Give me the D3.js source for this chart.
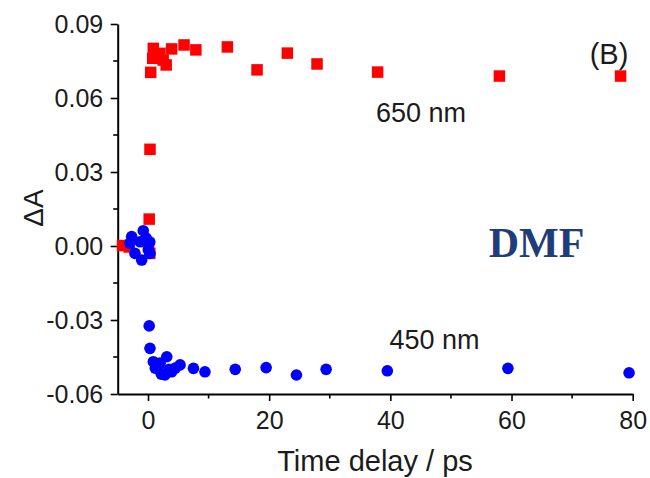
<!DOCTYPE html>
<html><head><meta charset="utf-8">
<script src="https://cdn.jsdelivr.net/npm/d3@7"></script>
<style>body{margin:0;background:#fff}svg{display:block}</style>
</head><body>
<svg id="c" width="650" height="478"></svg>
<script>
// 650 nm (red squares)
const redT = [-4.2, -3.1, 0.1, 0.3, 0.2, 0.33, 0.45, 0.78, 0.88, 1.98, 2.5, 3.0, 3.9, 5.95, 7.9, 13.1, 18.0, 23.0, 27.9, 37.9, 58.0, 78.0];
const redA = [0.0002, -0.0004, 0.001, -0.003, 0.0109, 0.0392, 0.0704, 0.0761, 0.0801, 0.0781, 0.0754, 0.0734, 0.0799, 0.0815, 0.0795, 0.0807, 0.0714, 0.0782, 0.0738, 0.0705, 0.0689, 0.0689];
// 450 nm (blue circles)
const blueT = [-3.0, -2.7, -2.15, -1.3, -1.04, -0.78, -0.3, 0.05, 0.3, 0.33, 0.2, 0.33, 0.88, 1.2, 1.7, 2.0, 2.2, 2.8, 3.1, 3.5, 3.9, 4.5, 5.3, 7.5, 9.4, 14.4, 19.5, 24.5, 29.4, 39.5, 59.4, 79.4];
const blueA = [0.0011, 0.0038, -0.003, 0.0017, -0.0057, 0.0062, 0.0032, -0.0016, 0.0016, -0.003, -0.0324, -0.0415, -0.0469, -0.0495, -0.0489, -0.0475, -0.052, -0.0523, -0.0449, -0.05, -0.051, -0.0495, -0.0482, -0.0496, -0.051, -0.05, -0.0493, -0.0523, -0.05, -0.0506, -0.0496, -0.0514];
const xTicks = [0, 20, 40, 60, 80];
const xMinor = [10, 30, 50, 70];
const yTicks = [-0.06, -0.03, 0.00, 0.03, 0.06, 0.09];
const yTickLabels = ["-0.06", "-0.03", "0.00", "0.03", "0.06", "0.09"];
const yMinor = [-0.045, -0.015, 0.015, 0.045, 0.075];

const svg = d3.select("#c");
const x = d3.scaleLinear().domain([-5, 80]).range([117.7, 632.7]);
const y = d3.scaleLinear().domain([-0.06, 0.09]).range([394, 24]);
const font = "'Liberation Sans', Arial, sans-serif";
const txt = "#1b1b1b";

// axes
const xAxis = d3.axisBottom(x).tickValues(xTicks).tickSize(7).tickSizeOuter(0).tickFormat(d3.format("d"));
const gx = svg.append("g").attr("transform", "translate(0,394)").call(xAxis);
const yAxis = d3.axisLeft(y).tickValues(yTicks).tickSize(7).tickSizeOuter(0)
  .tickFormat((d, i) => yTickLabels[i]);
const gy = svg.append("g").attr("transform", "translate(117.7,0)").call(yAxis);
[gx, gy].forEach(g => {
  g.select(".domain").attr("stroke", "#000").attr("stroke-width", 2);
  g.selectAll(".tick line").attr("stroke", "#000").attr("stroke-width", 1.6);
  g.selectAll(".tick text").attr("fill", txt).attr("font-family", font).attr("font-size", 25);
});
gx.selectAll(".tick text").attr("y", 35).attr("dy", 0);
gy.selectAll(".tick text").attr("x", -14.5).attr("dy", "0.35em");
gx.selectAll(".minor").data(xMinor).enter().append("line")
  .attr("x1", d => x(d)).attr("x2", d => x(d)).attr("y1", 0).attr("y2", 4.5)
  .attr("stroke", "#000").attr("stroke-width", 1.6);
gy.selectAll(".minor").data(yMinor).enter().append("line")
  .attr("y1", d => y(d)).attr("y2", d => y(d)).attr("x1", 0).attr("x2", -4.5)
  .attr("stroke", "#000").attr("stroke-width", 1.6);

// data
const s = 11.5;
svg.append("g").selectAll("rect").data(redT.map((t, i) => [t, redA[i]])).enter().append("rect")
  .attr("x", d => x(d[0]) - s / 2).attr("y", d => y(d[1]) - s / 2)
  .attr("width", s).attr("height", s).attr("fill", "#ff0000");
svg.append("g").selectAll("circle").data(blueT.map((t, i) => [t, blueA[i]])).enter().append("circle")
  .attr("cx", d => x(d[0])).attr("cy", d => y(d[1])).attr("r", 5.8).attr("fill", "#0000ff");

// labels
svg.append("text").attr("x", 375).attr("y", 471).attr("text-anchor", "middle")
  .attr("font-family", font).attr("font-size", 29).attr("fill", txt).text("Time delay / ps");
svg.append("text").attr("transform", "translate(43,208) rotate(-90)").attr("text-anchor", "middle")
  .attr("font-family", font).attr("font-size", 28).attr("fill", txt).text("ΔA");
svg.append("text").attr("x", 421).attr("y", 122).attr("text-anchor", "middle")
  .attr("font-family", font).attr("font-size", 27).attr("fill", txt).text("650 nm");
svg.append("text").attr("x", 434.5).attr("y", 349).attr("text-anchor", "middle")
  .attr("font-family", font).attr("font-size", 27).attr("fill", txt).text("450 nm");
svg.append("text").attr("x", 609).attr("y", 64).attr("text-anchor", "middle")
  .attr("font-family", font).attr("font-size", 29).attr("fill", txt).text("(B)");
svg.append("text").attr("x", 536.5).attr("y", 257).attr("text-anchor", "middle")
  .attr("font-family", "'Liberation Serif', 'Times New Roman', serif").attr("font-weight", "bold")
  .attr("font-size", 42).attr("fill", "#1f3d7a").text("DMF");
</script>
</body></html>
